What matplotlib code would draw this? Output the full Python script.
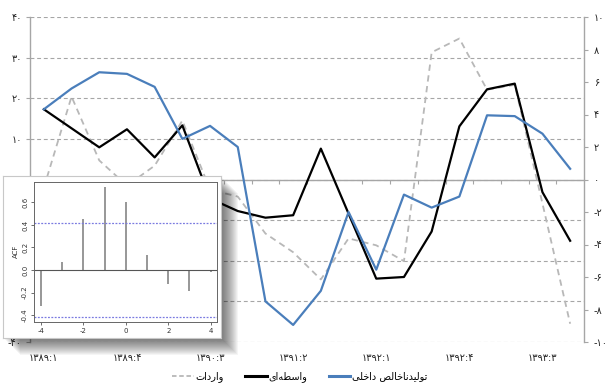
import numpy as np
import matplotlib
matplotlib.use("Agg")
import matplotlib.pyplot as plt
from matplotlib.patches import Rectangle
from matplotlib.lines import Line2D

plt.rcParams['font.family'] = ['DejaVu Sans']

# ---------------- data ----------------
categories = ["1389:1", "1389:2", "1389:3", "1389:4", "1390:1", "1390:2", "1390:3", "1390:4",
              "1391:1", "1391:2", "1391:3", "1391:4", "1392:1", "1392:2", "1392:3", "1392:4",
              "1393:1", "1393:2", "1393:3", "1393:4"]
imports = [-2.0, 20.4, 4.7, -1.5, 3.4, 14.5, -2.5, -4.2, -13.3, -17.9,
           -24.6, -14.5, -16.2, -20.1, 31.3, 34.7, 22.1, 23.3, -5.9, -35.5]      # left axis
intermediate = [4.32, 3.15, 1.98, 3.09, 1.36, 3.33, -1.17, -1.94, -2.35, -2.2,
                1.9, -2.1, -6.1, -6.0, -3.2, 3.27, 5.55, 5.9, -0.78, -3.77]      # right axis
gdp = [4.32, 5.6, 6.6, 6.5, 5.7, 2.5, 3.3, 2.0, -7.5, -8.95,
       -6.85, -2.0, -5.55, -0.93, -1.73, -1.05, 3.95, 3.9, 2.82, 0.66]           # right axis
left_ticks = [-40, -30, -20, -10, 0, 10, 20, 30, 40]
left_labels_hidden = [-30, -20, -10, 0]   # covered by the inset in the reference
right_ticks = [-10, -8, -6, -4, -2, 0, 2, 4, 6, 8, 10]

acf_lags = [-4, -3, -2, -1, 0, 1, 2, 3, 4]
acf_vals = [-0.316, 0.074, 0.453, 0.734, 0.600, 0.133, -0.124, -0.19, -0.015]
acf_ci = 0.417
acf_xticks = [-4, -2, 0, 2, 4]
acf_yticks = [-0.4, -0.2, 0.0, 0.2, 0.4, 0.6]

label_gdp = "تولیدناخالص داخلی"
label_int = "واسطه‌ای"
label_imp = "واردات"

# ---------------- helpers ----------------
FA_DIGITS = str.maketrans("0123456789", "۰۱۲۳۴۵۶۷۸۹")
def fa(s):
    return str(s).translate(FA_DIGITS)

FORMS = {
    'ا': ('\uFE8D', '\uFE8E'),
    'د': ('\uFEA9', '\uFEAA'),
    'ر': ('\uFEAD', '\uFEAE'),
    'و': ('\uFEED', '\uFEEE'),
    'ت': ('\uFE95', '\uFE96', '\uFE97', '\uFE98'),
    'خ': ('\uFEA5', '\uFEA6', '\uFEA7', '\uFEA8'),
    'س': ('\uFEB1', '\uFEB2', '\uFEB3', '\uFEB4'),
    'ص': ('\uFEB9', '\uFEBA', '\uFEBB', '\uFEBC'),
    'ط': ('\uFEC1', '\uFEC2', '\uFEC3', '\uFEC4'),
    'ل': ('\uFEDD', '\uFEDE', '\uFEDF', '\uFEE0'),
    'ن': ('\uFEE5', '\uFEE6', '\uFEE7', '\uFEE8'),
    'ه': ('\uFEE9', '\uFEEA', '\uFEEB', '\uFEEC'),
    'ی': ('\uFBFC', '\uFBFD', '\uFBFE', '\uFBFF'),
}
def shape(s):
    out = []
    for i, c in enumerate(s):
        if c not in FORMS:
            if c != '\u200c':
                out.append(c)
            continue
        prev = s[i - 1] if i > 0 else None
        nxt = s[i + 1] if i + 1 < len(s) else None
        f = FORMS[c]
        jp = prev in FORMS and len(FORMS[prev]) == 4
        jn = nxt in FORMS and len(f) == 4
        if jp and jn:
            out.append(f[3])
        elif jp:
            out.append(f[1])
        elif jn:
            out.append(f[2])
        else:
            out.append(f[0])
    return ''.join(reversed(out))

W, H = 610, 386
def fx(px):
    return px / W
def fy(py):
    return 1 - py / H

# ---------------- figure ----------------
fig = plt.figure(figsize=(6.1, 3.86), dpi=100)
fig.patch.set_facecolor('white')

ax = fig.add_axes([fx(30), fy(342), (584 - 30) / W, (342 - 17) / H])
ax.set_zorder(1)
x = np.arange(len(categories))
ax.set_xlim(-0.5, len(categories) - 0.5)
ax.set_ylim(-40, 40)
ax.set_yticks(left_ticks)
ax.set_yticklabels(['' if v in left_labels_hidden else fa(v) for v in left_ticks], fontsize=7)
ax.grid(axis='y', color='#a6a6a6', ls=(0, (3.5, 2.5)), lw=0.8)
ax.set_axisbelow(True)
for s in ['top', 'bottom', 'right']:
    ax.spines[s].set_visible(False)
ax.spines['left'].set_color('#a6a6a6')
ax.spines['left'].set_linewidth(1.0)
ax.tick_params(axis='y', length=3, color='#a6a6a6', pad=3, labelcolor='#222222')
ax.set_xticks(x[::3])
ax.set_xticklabels([fa(c) for c in categories[::3]], fontsize=7)
ax.tick_params(axis='x', length=0, pad=8, labelcolor='#222222')

ax.plot(x, imports, color='#b8b8b8', lw=1.3, ls=(0, (3.5, 2.5)), zorder=3)

ax2 = ax.twinx()
ax2.set_ylim(-10, 10)
ax2.set_yticks(right_ticks)
ax2.set_yticklabels([fa(v) for v in right_ticks], fontsize=7)
for s in ['top', 'bottom', 'left']:
    ax2.spines[s].set_visible(False)
ax2.spines['right'].set_color('#a6a6a6')
ax2.spines['right'].set_linewidth(1.0)
ax2.tick_params(axis='y', length=3, color='#a6a6a6', pad=4, labelcolor='#222222')
ax2.plot(x, intermediate, color='black', lw=1.6, zorder=4)
ax2.plot(x, gdp, color='#4a7ebb', lw=1.6, zorder=5)

sec = ax.secondary_xaxis(0.5)
sec.set_alignment('bottom')
sec.set_xticks(np.arange(0.5, len(categories) - 1, 1))
sec.set_xticklabels([])
sec.tick_params(axis='x', direction='out', length=3, color='#a6a6a6')
for s in sec.spines.values():
    s.set_color('#a6a6a6')
    s.set_linewidth(1.0)

# ---------------- inset with shadow ----------------
px0, px1, py0, py1 = 3, 221, 176, 338
for d in range(2, 18):
    fig.patches.append(Rectangle((fx(px0 + d), fy(py1 + d)), (px1 - px0) / W, (py1 - py0) / H,
                                 transform=fig.transFigure, facecolor='black', edgecolor='none',
                                 alpha=0.038, zorder=5))
panel = fig.add_axes([fx(px0), fy(py1), (px1 - px0) / W, (py1 - py0) / H])
panel.set_zorder(10)
panel.set_facecolor('white')
panel.set_xticks([])
panel.set_yticks([])
for s in panel.spines.values():
    s.set_color('#c8c8c8')
    s.set_linewidth(0.8)

iax = fig.add_axes([fx(34.3), fy(321.7), (217.3 - 34.3) / W, (321.7 - 181.7) / H])
iax.set_zorder(11)
iax.set_facecolor('white')
iax.set_xlim(-4.31, 4.31)
iax.set_ylim(-0.459, 0.784)
iax.vlines(acf_lags, 0, acf_vals, color='#8f8f8f', lw=1.3)
iax.axhline(0, color='#555555', lw=0.8)
iax.axhline(acf_ci, color='#7a7ae0', ls=(0, (1.5, 1.2)), lw=0.9)
iax.axhline(-acf_ci, color='#7a7ae0', ls=(0, (1.5, 1.2)), lw=0.9)
iax.set_xticks(acf_xticks)
iax.set_xticklabels([str(v) for v in acf_xticks], fontsize=5)
iax.set_yticks(acf_yticks)
iax.set_yticklabels([f"{v:.1f}" for v in acf_yticks], fontsize=5, rotation=90, va='center')
iax.tick_params(length=2.5, width=0.6, color='#555555', pad=2, labelcolor='#333333')
iax.set_ylabel("ACF", fontsize=5, labelpad=2, color='#333333')
for s in iax.spines.values():
    s.set_color('#666666')
    s.set_linewidth(0.7)

# ---------------- legend ----------------
handles = [Line2D([], [], color='#b8b8b8', lw=1.3, ls=(0, (2.5, 1.5))),
           Line2D([], [], color='black', lw=2.2),
           Line2D([], [], color='#4a7ebb', lw=2.2)]
labels = [shape(label_imp), shape(label_int), shape(label_gdp)]
fig.legend(handles, labels, loc='center', bbox_to_anchor=(fx(300), fy(377)), ncol=3,
           frameon=False, fontsize=7, handlelength=2.2, handletextpad=0.2,
           columnspacing=2.2, borderaxespad=0)

fig.savefig("out.png", dpi=100, facecolor='white')
